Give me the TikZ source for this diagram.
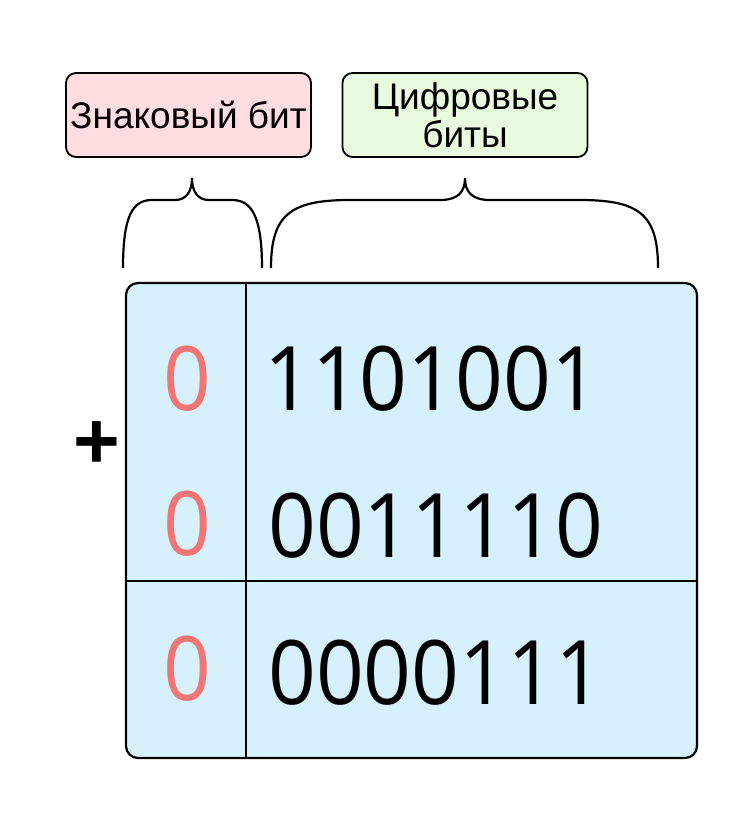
\documentclass[tikz,border=0pt]{standalone}
\usepackage{fontspec}
\usepackage{tikz}
\setmainfont{Liberation Sans}
\newfontfamily\digitfont[FakeStretch=0.94]{Open Sans}

\definecolor{cellblue}{HTML}{D7F1FC}
\definecolor{signpink}{HTML}{FFDDE0}
\definecolor{digitgreen}{HTML}{EAFADF}
\definecolor{signred}{HTML}{F27575}

\tikzset{
  labelbox/.style={draw, line width=1.8pt, rounded corners=10pt,
    minimum width=245pt, minimum height=84pt, inner sep=0pt,
    align=center, font=\fontsize{37}{38}\selectfont},
  signdigit/.style={text=signred, inner sep=0pt, anchor=base,
    font=\digitfont\fontsize{89}{89}\selectfont},
  valuedigits/.style={inner sep=0pt, anchor=base west,
    font=\digitfont\fontsize{89}{89}\selectfont},
  braceline/.style={line width=2.2pt}
}

\begin{document}
\begin{tikzpicture}[x=1pt,y=-1pt]

\useasboundingbox (0,0) rectangle (750,821);

% Labels
\node[labelbox, fill=signpink] (signlabel) at (188.5,115) {Знаковый бит};
\node[labelbox, fill=digitgreen] (digitlabel) at (465,115) {Цифровые\\биты};

% Braces
\draw[braceline] (123,268) .. controls (123,215) and (133,200) .. (152,200)
  -- (175,200) .. controls (186,200) and (192,192) .. (192,178)
  .. controls (192,192) and (198,200) .. (209,200)
  -- (232,200) .. controls (251,200) and (262,215) .. (262,268);
\draw[braceline] (271,268) .. controls (271,215) and (290,200) .. (350,200)
  -- (440,200) .. controls (458,200) and (465,192) .. (465,178)
  .. controls (465,192) and (472,200) .. (490,200)
  -- (580,200) .. controls (640,200) and (658,215) .. (658,268);

% Table
\draw[line width=2.2pt, fill=cellblue, rounded corners=12pt] (126,283) rectangle (697,758);
\draw[line width=2.2pt] (246,283) -- (246,758);
\draw[line width=2.2pt] (126,581) -- (697,581);

% Sign bits
\node[signdigit] (s1) at (187,410) {0};
\node[signdigit] (s2) at (187,555) {0};
\node[signdigit] (s3) at (187,700) {0};

% Value bits
\node[valuedigits] (v1) at (264,410) {1101001};
\node[valuedigits] (v2) at (268,557) {0011110};
\node[valuedigits] (v3) at (268,704) {0000111};

% Plus
\node[inner sep=0pt, font=\bfseries\fontsize{80}{80}\selectfont] (plus) at (97,445) {+};

\end{tikzpicture}
\end{document}
